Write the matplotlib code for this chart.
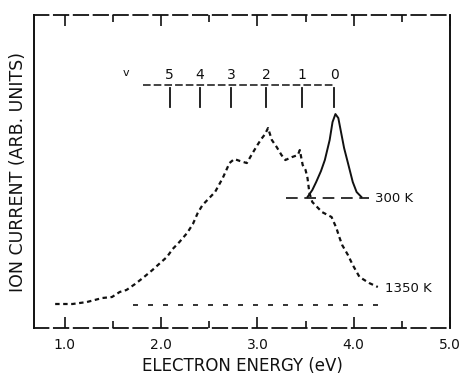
import matplotlib
matplotlib.use("Agg")
import matplotlib.pyplot as plt
import numpy as np

# ---- data ----
energy_1350 = [0.90, 1.08, 1.23, 1.39, 1.49, 1.57, 1.64, 1.73, 1.81, 1.91, 1.99, 2.06,
               2.12, 2.19, 2.27, 2.33, 2.38, 2.43, 2.48, 2.56, 2.64, 2.71, 2.76, 2.82,
               2.89, 2.95, 3.00, 3.04, 3.08, 3.11, 3.15, 3.20, 3.25, 3.29, 3.36, 3.42,
               3.44, 3.47, 3.50, 3.52, 3.54, 3.57, 3.67, 3.77, 3.82, 3.85, 3.88, 3.94,
               3.99, 4.06, 4.16, 4.25]
current_1350 = [0.01, 0.01, 0.03, 0.07, 0.08, 0.13, 0.15, 0.21, 0.27, 0.35, 0.42, 0.48,
                0.56, 0.63, 0.72, 0.81, 0.92, 1.00, 1.05, 1.13, 1.27, 1.42, 1.46, 1.44,
                1.42, 1.52, 1.60, 1.66, 1.71, 1.77, 1.65, 1.58, 1.50, 1.45, 1.48, 1.50,
                1.55, 1.40, 1.35, 1.27, 1.12, 1.03, 0.93, 0.88, 0.77, 0.68, 0.60, 0.50,
                0.40, 0.28, 0.22, 0.18]

energy_300 = [3.52, 3.57, 3.61, 3.66, 3.70, 3.75, 3.78, 3.81, 3.84, 3.87, 3.90, 3.94,
              3.99, 4.03, 4.08]
current_300 = [0.01, 0.08, 0.16, 0.27, 0.38, 0.58, 0.76, 0.84, 0.80, 0.65, 0.50, 0.35,
               0.16, 0.06, 0.01]
baseline_300 = 1.07
baseline_300_range = [3.30, 4.16]
baseline_1350 = 0.0
baseline_1350_range = [1.71, 4.32]

vib_labels = ['5', '4', '3', '2', '1', '0']
vib_energy = [2.09, 2.40, 2.73, 3.09, 3.46, 3.80]

xticks_major = [1.0, 2.0, 3.0, 4.0, 5.0]
xtick_labels = ['1.0', '2.0', '3.0', '4.0', '5.0']
xticks_minor = [1.5, 2.5, 3.5, 4.5]

# ---- figure ----
plt.rcParams['font.family'] = ['DejaVu Sans']
fig = plt.figure(figsize=(4.63, 3.77), dpi=100)
ax = fig.add_axes([0.0734, 0.130, 0.8986, 0.830])
ax.set_xlim(0.68, 5.0)
ax.set_ylim(-0.23, 2.90)

k = '#111111'
# 1350 K curve (dotted)
ax.plot(energy_1350, current_1350, color=k, lw=1.6, linestyle=(0, (2.0, 1.6)))
ax.plot(baseline_1350_range, [baseline_1350] * 2, color=k, lw=1.2, linestyle=(0, (3, 6)))
# 300 K curve (solid)
ax.plot(energy_300, np.array(current_300) + baseline_300, color=k, lw=1.4)
ax.plot(baseline_300_range, [baseline_300] * 2, color=k, lw=1.2, linestyle=(0, (7, 4)))

ax.text(4.22, baseline_300, '300 K', fontsize=9.5, va='center', ha='left', color=k)
ax.text(4.32, 0.17, '1350 K', fontsize=9.5, va='center', ha='left', color=k)

# vibrational markers
ybar = 2.20
ax.plot([1.81, vib_energy[-1]], [ybar, ybar], color=k, lw=1.1, linestyle=(0, (5, 2)))
for e, lab in zip(vib_energy, vib_labels):
    ax.plot([e, e], [ybar - 0.03, 1.98], color=k, lw=1.3)
    ax.text(e, 2.30, lab, fontsize=10, ha='center', va='center', color=k)
ax.text(1.64, 2.32, 'v', fontsize=8, ha='center', va='center', color=k)

# axes styling
for s in ['left', 'right']:
    ax.spines[s].set_linewidth(1.4)
for s in ['top', 'bottom']:
    ax.spines[s].set_linewidth(1.3)
    ax.spines[s].set_linestyle((0, (8, 3)))
for s in ax.spines.values():
    s.set_color(k)

ax.set_xticks(xticks_major)
ax.set_xticklabels(xtick_labels)
ax.set_xticks(xticks_minor, minor=True)
ax.tick_params(axis='x', which='major', direction='in', length=8, width=1.2,
               top=True, bottom=True, labelsize=10, pad=7, colors=k)
ax.tick_params(axis='x', which='minor', direction='in', length=5, width=1.2,
               top=True, bottom=True, colors=k)
ax.set_yticks([])

ax.set_xlabel('ELECTRON ENERGY (eV)', fontsize=12, labelpad=4, color=k)
ax.set_ylabel('ION CURRENT (ARB. UNITS)', fontsize=12.5, labelpad=5, color=k)

fig.savefig('out.png', dpi=100)
